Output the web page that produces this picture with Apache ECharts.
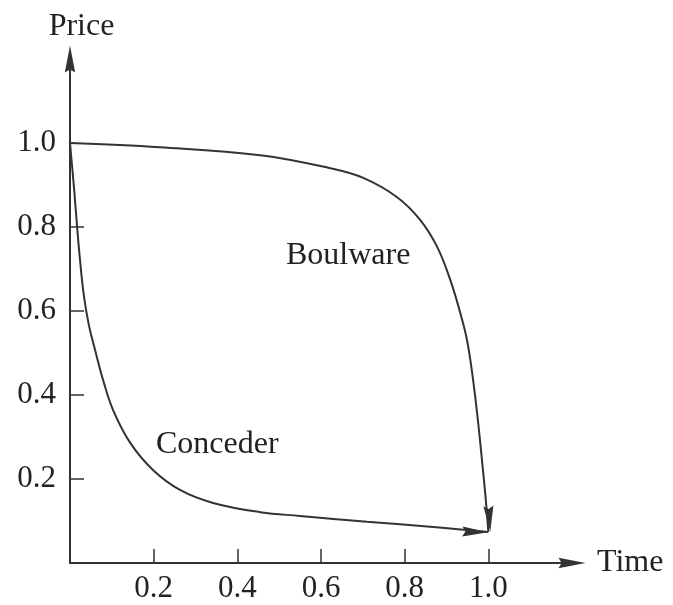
<!DOCTYPE html>
<html>
<head>
<meta charset="utf-8">
<script src="https://cdn.jsdelivr.net/npm/echarts@6/dist/echarts.min.js"></script>
<style>
  html, body { margin: 0; padding: 0; background: #fff; }
  #chart { width: 673px; height: 605px; }
</style>
</head>
<body>
<div id="chart"></div>
<script>
// values
var boulwareTime  = [0, 0.215, 0.455, 0.622, 0.701, 0.782, 0.837, 0.878, 0.909, 0.933, 0.949, 0.963, 0.975, 0.986, 0.994, 1.0];
var boulwarePrice = [1.0, 0.99, 0.971, 0.94, 0.917, 0.871, 0.817, 0.752, 0.674, 0.595, 0.531, 0.44, 0.34, 0.233, 0.15, 0.074];
var concederTime  = [0, 0.010, 0.017, 0.024, 0.033, 0.045, 0.060, 0.079, 0.103, 0.144, 0.199, 0.263, 0.342, 0.455, 0.55, 0.71, 0.868, 1.0];
var concederPrice = [1.0, 0.888, 0.8, 0.721, 0.638, 0.567, 0.507, 0.436, 0.364, 0.286, 0.221, 0.174, 0.143, 0.121, 0.112, 0.098, 0.086, 0.074];
var xTicks = [0.2, 0.4, 0.6, 0.8, 1.0];
var yTicks = [0.2, 0.4, 0.6, 0.8];
var yLabels = [0.2, 0.4, 0.6, 0.8, 1.0];
var curveNames = ['Boulware', 'Conceder'];
var namePos = [[0.665, 0.733], [0.352, 0.281]];

var ink = '#333';
var font = 'Liberation Serif';
var arrowPath = 'path://M5,0 L10,26 L5,23 L0,26 Z';

function pairs(xs, ys, rot, off) {
    var out = xs.map(function (x, i) { return [x, ys[i]]; });
    // arrow head on the last point
    var last = out[out.length - 1];
    out[out.length - 1] = {
        value: last,
        symbol: arrowPath,
        symbolSize: [10, 26],
        symbolRotate: rot,
        symbolOffset: off,
        itemStyle: { color: ink }
    };
    return out;
}

function curve(name, data, pos) {
    return {
        name: name,
        type: 'line',
        data: data,
        smooth: 0.4,
        symbol: 'none',
        showSymbol: true,
        lineStyle: { color: ink, width: 2 },
        silent: true,
        markPoint: {
            symbol: 'circle',
            symbolSize: 1,
            itemStyle: { color: 'rgba(0,0,0,0)' },
            label: {
                show: true,
                position: 'inside',
                formatter: name,
                color: '#222',
                fontFamily: font,
                fontSize: 32
            },
            data: [{ coord: pos }]
        }
    };
}

var chart = echarts.init(document.getElementById('chart'));
chart.setOption({
    backgroundColor: '#fff',
    animation: false,
    grid: { left: 70, top: 59, width: 502, height: 504 },
    xAxis: {
        type: 'value',
        min: 0, max: 1.2, interval: 0.2,
        name: 'Time',
        nameLocation: 'end',
        nameGap: 25,
        nameTextStyle: { color: '#222', fontFamily: font, fontSize: 32, padding: [0, 0, 6, 0] },
        axisLine: {
            show: true,
            symbol: ['none', arrowPath],
            symbolSize: [12, 27],
            lineStyle: { color: ink, width: 2 }
        },
        axisTick: { show: true, inside: true, length: 14, customValues: xTicks, lineStyle: { color: ink, width: 1.5 } },
        axisLabel: { customValues: xTicks, margin: 10, color: '#222', fontFamily: font, fontSize: 31,
            formatter: function (v) { return v.toFixed(1); } },
        splitLine: { show: false }
    },
    yAxis: {
        type: 'value',
        min: 0, max: 1.2, interval: 0.2,
        name: 'Price',
        nameLocation: 'end',
        nameGap: 16,
        nameTextStyle: { color: '#222', fontFamily: font, fontSize: 32, padding: [0, 0, 0, 23] },
        axisLine: {
            show: true,
            symbol: ['none', arrowPath],
            symbolSize: [12, 27],
            lineStyle: { color: ink, width: 2 }
        },
        axisTick: { show: true, inside: true, length: 14, customValues: yTicks, lineStyle: { color: ink, width: 1.5 } },
        axisLabel: { customValues: yLabels, margin: 14, color: '#222', fontFamily: font, fontSize: 31,
            formatter: function (v) { return v.toFixed(1); } },
        splitLine: { show: false }
    },
    series: [
        curve(curveNames[0], pairs(boulwareTime, boulwarePrice, 184, [1, -13]), namePos[0]),
        curve(curveNames[1], pairs(concederTime, concederPrice, 268, [-13, 0]), namePos[1])
    ]
});
</script>
</body>
</html>
